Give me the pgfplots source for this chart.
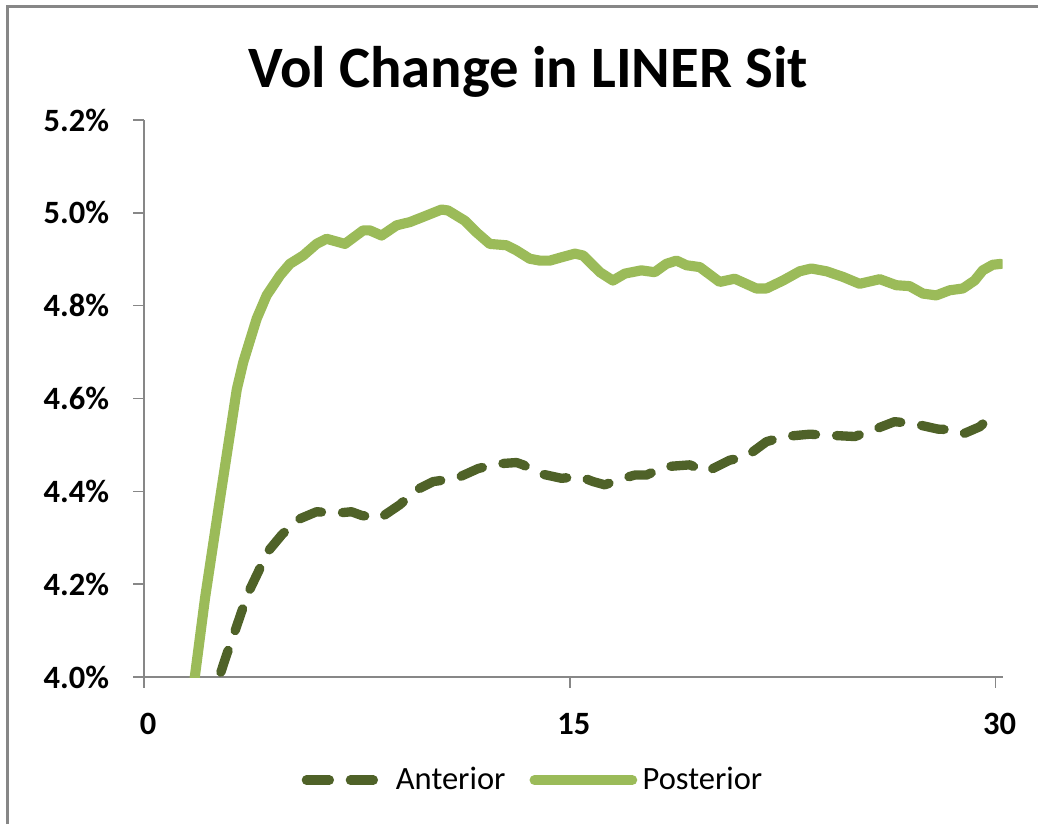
\documentclass[border=0pt]{standalone}
\usepackage{pgfplots}
\pgfplotsset{compat=1.18}
\usepackage{fontspec}
\setmainfont{Carlito}
\definecolor{postc}{HTML}{9BBB59}
\definecolor{antc}{HTML}{4F6228}
\definecolor{axgray}{HTML}{878787}
\pgfplotsset{
  antleg/.style={legend image code/.code={\draw[##1] (0pt,0pt) -- (25.1pt,0pt); \path (29.8pt,0pt);}},
  postleg/.style={legend image code/.code={\draw[##1] (0pt,0pt) -- (36.6pt,0pt);}},
}
\begin{document}
\begin{tikzpicture}
\path[use as bounding box] (0,0) rectangle (389.25pt,309pt);
\draw[axgray,line width=1.2pt] (2.8pt,0pt) -- (2.8pt,306.6pt) -- (389.25pt,306.6pt);
\node[font=\bfseries\fontsize{22}{26}\selectfont,anchor=center] at (198pt,282pt) {Vol Change in LINER Sit};
\begin{axis}[
  at={(54pt,55.125pt)}, anchor=south west,
  scale only axis, width=322pt, height=208.9pt,
  xmin=0, xmax=30.25, ymin=4.0, ymax=5.2,
  xtick={0,15,30}, ytick={4.0,4.2,4.4,4.6,4.8,5.0,5.2},
  axis x line*=bottom, axis y line*=left,
  axis line style={axgray,line width=0.6pt,-},
  tick style={axgray,line width=0.6pt},
  tick align=outside, major tick length=4.1pt,
  /pgf/number format/assume math mode=true,
  ticklabel style={font=\bfseries\fontsize{12.2}{14}\selectfont,text=black},
  yticklabel={\pgfmathprintnumber[fixed,fixed zerofill,precision=1]{\tick}\%},
  xticklabel={\pgfmathprintnumber{\tick}},
  yticklabel style={xshift=-5.5pt},
  xticklabel style={yshift=-6pt,xshift=1.5pt},
  legend style={at={(axis description cs:0.455,-0.185)},anchor=center,draw=none,
    legend columns=2,font=\fontsize{12.2}{14}\selectfont,
    /tikz/every even column/.append style={column sep=7pt}},
  legend cell align=left,
]
\addplot[antc,line width=3.5pt,line cap=round,line join=round,
  dash pattern=on 8.6pt off 7.9pt, antleg]
coordinates {
(2.24,3.92) (2.68,4.005) (2.91,4.048) (3.20,4.098) (3.44,4.141) (3.67,4.181)
(4.03,4.227) (4.32,4.267) (4.85,4.306) (5.38,4.338) (6.08,4.356) (6.79,4.353)
(7.31,4.356) (7.67,4.348) (8.31,4.342) (9.01,4.371) (9.60,4.403) (10.19,4.421)
(11.01,4.428) (11.77,4.449) (12.42,4.459) (13.12,4.462) (13.36,4.457) (13.88,4.439)
(14.71,4.428) (15.35,4.432) (15.82,4.421) (16.23,4.414) (16.88,4.428) (17.29,4.435)
(17.70,4.435) (18.35,4.453) (19.23,4.457) (19.81,4.442) (20.63,4.467) (21.22,4.475)
(21.93,4.507) (22.57,4.518) (23.45,4.523) (24.09,4.521) (25.04,4.518) (25.68,4.532)
(26.44,4.550) (27.09,4.546) (27.97,4.534) (28.67,4.532) (28.91,4.525) (29.44,4.539)
(29.55,4.545)
};
\addlegendentry{Anterior}
\addplot[postc,line width=3.8pt,line cap=round,line join=round, postleg]
coordinates {
(1.46,3.85) (1.80,4.005) (2.15,4.17) (2.68,4.385) (3.27,4.62) (3.50,4.679)
(3.97,4.772) (4.32,4.822) (4.79,4.865) (5.14,4.890) (5.61,4.908) (6.08,4.933)
(6.43,4.944) (7.08,4.933) (7.72,4.962) (7.96,4.962) (8.37,4.951) (8.90,4.973)
(9.37,4.980) (9.95,4.994) (10.48,5.007) (10.71,5.005) (11.30,4.983) (11.71,4.958)
(12.18,4.933) (12.77,4.930) (13.12,4.919) (13.59,4.901) (13.94,4.897) (14.30,4.897)
(14.76,4.905) (15.18,4.912) (15.47,4.908) (16.06,4.872) (16.52,4.854) (16.94,4.869)
(17.52,4.876) (17.99,4.872) (18.40,4.890) (18.76,4.897) (19.11,4.887) (19.58,4.883)
(20.28,4.851) (20.81,4.858) (21.57,4.837) (21.93,4.837) (22.51,4.854) (23.10,4.874)
(23.51,4.880) (24.04,4.874) (24.62,4.862) (25.21,4.847) (25.92,4.857) (26.50,4.844)
(26.97,4.842) (27.44,4.826) (27.91,4.822) (28.38,4.833) (28.85,4.837) (29.26,4.854)
(29.55,4.876) (29.90,4.888) (30.20,4.890)
};
\addlegendentry{Posterior}
\end{axis}
\end{tikzpicture}
\end{document}
